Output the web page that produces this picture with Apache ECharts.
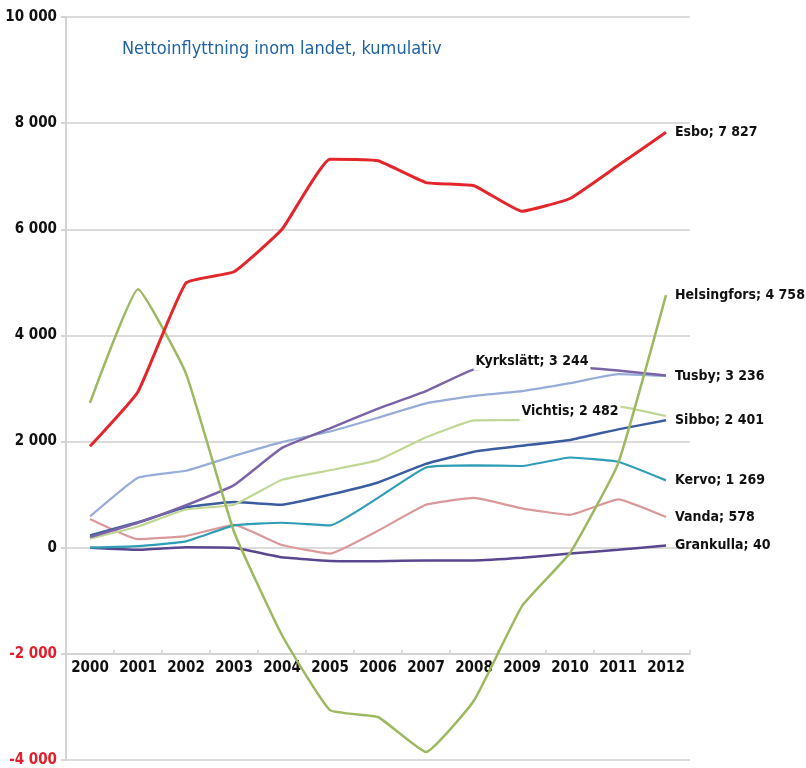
<!DOCTYPE html>
<html>
<head>
<meta charset="utf-8">
<script src="https://cdn.jsdelivr.net/npm/echarts@6/dist/echarts.min.js"></script>
<style>
html,body{margin:0;padding:0;background:#fff;}
#c{width:806px;height:768px;}
</style>
</head>
<body>
<div id="c"></div>
<script>
var years = ['2000','2001','2002','2003','2004','2005','2006','2007','2008','2009','2010','2011','2012'];
var esbo        = [1910, 2940, 4990, 5200, 6000, 7320, 7290, 6880, 6820, 6340, 6580, 7200, 7827];
var helsingfors = [2730, 4870, 3280, 300, -1650, -3060, -3190, -3850, -2880, -1100, -100, 1580, 4758];
var kyrkslatt   = [200, 470, 800, 1180, 1880, 2250, 2620, 2950, 3360, 3390, 3400, 3340, 3244];
var tusby       = [590, 1320, 1450, 1730, 1990, 2190, 2450, 2720, 2860, 2950, 3100, 3270, 3236];
var vichtis     = [170, 400, 720, 810, 1280, 1460, 1650, 2080, 2400, 2410, 2550, 2660, 2482];
var sibbo       = [230, 480, 760, 860, 810, 1000, 1230, 1580, 1810, 1920, 2030, 2230, 2401];
var kervo       = [0, 30, 120, 420, 470, 420, 940, 1510, 1550, 1540, 1700, 1620, 1269];
var vanda       = [540, 160, 220, 430, 50, -110, 320, 810, 940, 740, 620, 910, 578];
var grankulla   = [0, -40, 10, 0, -180, -250, -255, -240, -240, -190, -110, -40, 40];
var yTicks = {min: -4000, max: 10000, interval: 2000};
var titleText = 'Nettoinflyttning inom landet, kumulativ';

var FONT = '"Liberation Sans Narrow", "DejaVu Sans Condensed", sans-serif';
var FS = 15, LFS = 14;
function fmt(v){
  var s = Math.abs(v).toString().replace(/\B(?=(\d{3})+(?!\d))/g, ' ');
  return (v < 0 ? '-' : '') + s;
}
var chart = echarts.init(document.getElementById('c'), null, {renderer:'canvas'});
var gridTop = 17, gridBottom = 8, H = 768;
var gridH = H - gridTop - gridBottom;
var stepPx = gridH / ((yTicks.max - yTicks.min) / yTicks.interval);

function mk(name, data, color, width, endLabel, extra){
  var s = {
    name: name, type: 'line', data: data, smooth: 0.12,
    symbol: 'none', silent: true,
    lineStyle: {color: color, width: width},
    itemStyle: {color: color},
    emphasis: {disabled: true},
    endLabel: {
      show: endLabel, distance: 9,
      formatter: function(p){ return p.seriesName + '; ' + fmt(data[data.length-1]); },
      fontFamily: FONT, fontWeight: 'bold', fontSize: LFS, color: '#111'
    }
  };
  if (extra) for (var k in extra) s[k] = extra[k];
  return s;
}
function midLabel(idx, val, dx, text){
  return {
    z: 10, silent: true,
    symbol: 'rect', symbolSize: 0,
    data: [{coord: [idx, val]}],
    label: {
      show: true, position: 'inside', offset: [dx, 0],
      formatter: text, backgroundColor: '#fff', padding: [2, 2],
      fontFamily: FONT, fontWeight: 'bold', fontSize: LFS, color: '#111'
    }
  };
}

var option = {
  animation: false,
  backgroundColor: '#fff',
  title: {
    text: titleText, left: 117, top: 35,
    textStyle: {fontFamily: FONT, fontWeight: 'normal', fontSize: 18, color: '#1f63a3'}
  },
  grid: {left: 66, right: 116, top: gridTop, bottom: gridBottom, containLabel: false},
  xAxis: {
    type: 'category', data: years, boundaryGap: true,
    offset: -stepPx,
    axisLine: {onZero: false, lineStyle: {color: '#d4d4d4', width: 2}},
    axisTick: {show: true, inside: true, length: 4, lineStyle: {color: '#d4d4d4', width: 1.5}},
    axisLabel: {interval: 0, fontFamily: FONT, fontWeight: 'bold', fontSize: FS, color: '#111', margin: 7}
  },
  yAxis: {
    type: 'value', min: yTicks.min, max: yTicks.max, interval: yTicks.interval,
    axisLine: {show: true, lineStyle: {color: '#d4d4d4', width: 2}},
    axisTick: {show: true, length: 5, lineStyle: {color: '#d4d4d4', width: 2}},
    splitLine: {lineStyle: {color: '#dcdcdc', width: 2}},
    axisLabel: {
      margin: 9,
      formatter: function(v){ return v < 0 ? '{r|' + fmt(v) + '}' : '{b|' + fmt(v) + '}'; },
      rich: {
        b: {fontFamily: FONT, fontWeight: 'bold', fontSize: FS, color: '#111'},
        r: {fontFamily: FONT, fontWeight: 'bold', fontSize: FS, color: '#e0202a'}
      }
    }
  },
  series: [
    mk('Grankulla', grankulla, '#5a4790', 2.5, true),
    mk('Vanda', vanda, '#d9999b', 2.2, true),
    mk('Kervo', kervo, '#2f9db5', 2.2, true),
    mk('Sibbo', sibbo, '#3b5c9f', 2.5, true),
    mk('Vichtis', vichtis, '#c2d695', 2.2, false, {markPoint: midLabel(10, 2560, 0, 'Vichtis; 2 482')}),
    mk('Tusby', tusby, '#98acd8', 2.2, true),
    mk('Kyrkslätt', kyrkslatt, '#7a64a8', 2.5, false, {markPoint: midLabel(9, 3510, 10, 'Kyrkslätt; 3 244')}),
    mk('Helsingfors', helsingfors, '#9cb860', 2.5, true, {z: 12}),
    mk('Esbo', esbo, '#e3262b', 3, true, {z: 12})
  ]
};
chart.setOption(option);
</script>
</body>
</html>
